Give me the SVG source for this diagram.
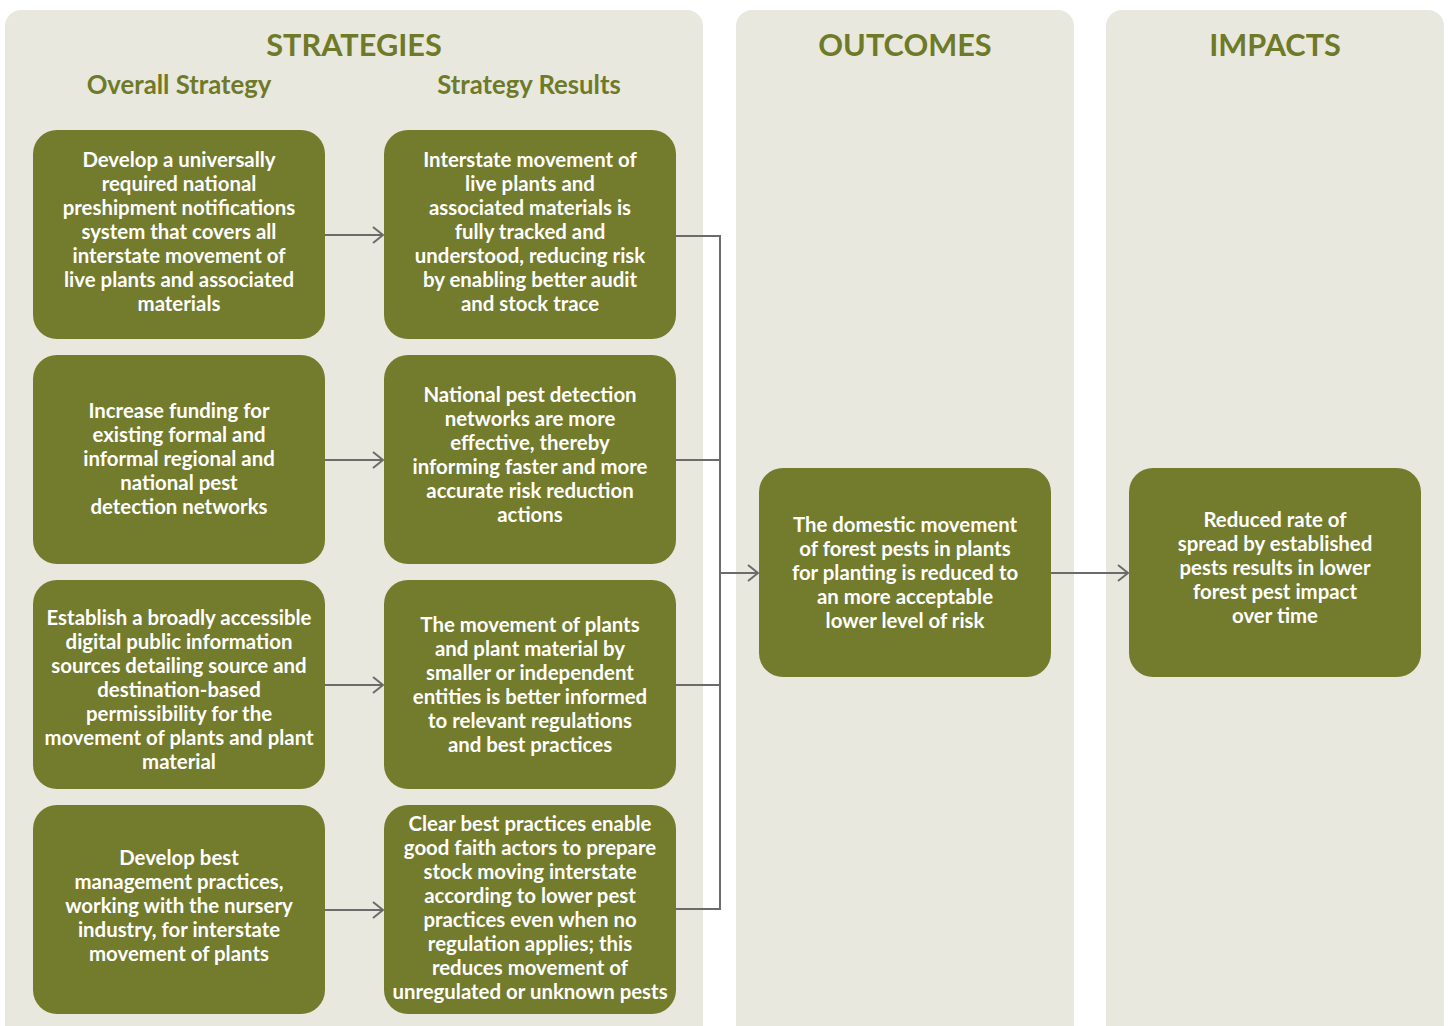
<svg xmlns="http://www.w3.org/2000/svg" width="1448" height="1026" viewBox="0 0 1448 1026">
<style>
.panel{fill:#e9e8de}
.box{fill:#737b2c}
.t{font-family:Lato,"Liberation Sans",sans-serif;font-weight:bold;font-size:20.4px;fill:#ffffff;text-anchor:middle;dominant-baseline:central}
.h{font-family:Lato,"Liberation Sans",sans-serif;font-weight:bold;font-size:30.7px;fill:#6f7a28;text-anchor:middle;dominant-baseline:central}
.s{font-family:Lato,"Liberation Sans",sans-serif;font-weight:bold;font-size:25.7px;fill:#6f7a28;text-anchor:middle;dominant-baseline:central}
.c{fill:none;stroke:#6b6b6b;stroke-width:2}
</style>
<defs>
<marker id="arr" markerWidth="14" markerHeight="20" refX="12" refY="10" orient="auto" markerUnits="userSpaceOnUse">
<path d="M2,2 L12,10 L2,18" fill="none" stroke="#6b6b6b" stroke-width="2"/>
</marker>
</defs>
<rect width="1448" height="1026" fill="#ffffff"/>
<g id="panels">
<rect class="panel" x="5" y="10" width="698" height="1040" rx="16"/>
<rect class="panel" x="736" y="10" width="338" height="1040" rx="16"/>
<rect class="panel" x="1106" y="10" width="338" height="1040" rx="16"/>
<text class="h" x="354" y="44">STRATEGIES</text>
<text class="s" x="179" y="84">Overall Strategy</text>
<text class="s" x="529" y="84">Strategy Results</text>
<text class="h" x="905" y="44">OUTCOMES</text>
<text class="h" x="1275" y="44">IMPACTS</text>
</g>
<g id="connectors">
<line class="c" x1="325" y1="235" x2="383" y2="235" marker-end="url(#arr)"/>
<line class="c" x1="325" y1="460" x2="383" y2="460" marker-end="url(#arr)"/>
<line class="c" x1="325" y1="685" x2="383" y2="685" marker-end="url(#arr)"/>
<line class="c" x1="325" y1="910" x2="383" y2="910" marker-end="url(#arr)"/>
<polyline class="c" points="676,236 720,236 720,909 676,909"/>
<line class="c" x1="676" y1="460" x2="720" y2="460"/>
<line class="c" x1="676" y1="685" x2="720" y2="685"/>
<line class="c" x1="720" y1="573" x2="758" y2="573" marker-end="url(#arr)"/>
<line class="c" x1="1051" y1="573" x2="1128" y2="573" marker-end="url(#arr)"/>
</g>
<g id="s1">
<rect class="box" x="33" y="130" width="292" height="209" rx="24"/>
<text class="t" x="179"><tspan x="179" y="159">Develop a universally</tspan><tspan x="179" y="183">required national</tspan><tspan x="179" y="207">preshipment notifications</tspan><tspan x="179" y="231">system that covers all</tspan><tspan x="179" y="255">interstate movement of</tspan><tspan x="179" y="279">live plants and associated</tspan><tspan x="179" y="303">materials</tspan></text>
</g>
<g id="s2">
<rect class="box" x="33" y="355" width="292" height="209" rx="24"/>
<text class="t" x="179"><tspan x="179" y="410">Increase funding for</tspan><tspan x="179" y="434">existing formal and</tspan><tspan x="179" y="458">informal regional and</tspan><tspan x="179" y="482">national pest</tspan><tspan x="179" y="506">detection networks</tspan></text>
</g>
<g id="s3">
<rect class="box" x="33" y="580" width="292" height="209" rx="24"/>
<text class="t" x="179"><tspan x="179" y="617">Establish a broadly accessible</tspan><tspan x="179" y="641">digital public information</tspan><tspan x="179" y="665">sources detailing source and</tspan><tspan x="179" y="689">destination-based</tspan><tspan x="179" y="713">permissibility for the</tspan><tspan x="179" y="737">movement of plants and plant</tspan><tspan x="179" y="761">material</tspan></text>
</g>
<g id="s4">
<rect class="box" x="33" y="805" width="292" height="209" rx="24"/>
<text class="t" x="179"><tspan x="179" y="857">Develop best</tspan><tspan x="179" y="881">management practices,</tspan><tspan x="179" y="905">working with the nursery</tspan><tspan x="179" y="929">industry, for interstate</tspan><tspan x="179" y="953">movement of plants</tspan></text>
</g>
<g id="r1">
<rect class="box" x="384" y="130" width="292" height="209" rx="24"/>
<text class="t" x="530"><tspan x="530" y="159">Interstate movement of</tspan><tspan x="530" y="183">live plants and</tspan><tspan x="530" y="207">associated materials is</tspan><tspan x="530" y="231">fully tracked and</tspan><tspan x="530" y="255">understood, reducing risk</tspan><tspan x="530" y="279">by enabling better audit</tspan><tspan x="530" y="303">and stock trace</tspan></text>
</g>
<g id="r2">
<rect class="box" x="384" y="355" width="292" height="209" rx="24"/>
<text class="t" x="530"><tspan x="530" y="394">National pest detection</tspan><tspan x="530" y="418">networks are more</tspan><tspan x="530" y="442">effective, thereby</tspan><tspan x="530" y="466">informing faster and more</tspan><tspan x="530" y="490">accurate risk reduction</tspan><tspan x="530" y="514">actions</tspan></text>
</g>
<g id="r3">
<rect class="box" x="384" y="580" width="292" height="209" rx="24"/>
<text class="t" x="530"><tspan x="530" y="624">The movement of plants</tspan><tspan x="530" y="648">and plant material by</tspan><tspan x="530" y="672">smaller or independent</tspan><tspan x="530" y="696">entities is better informed</tspan><tspan x="530" y="720">to relevant regulations</tspan><tspan x="530" y="744">and best practices</tspan></text>
</g>
<g id="r4">
<rect class="box" x="384" y="805" width="292" height="209" rx="24"/>
<text class="t" x="530"><tspan x="530" y="823">Clear best practices enable</tspan><tspan x="530" y="847">good faith actors to prepare</tspan><tspan x="530" y="871">stock moving interstate</tspan><tspan x="530" y="895">according to lower pest</tspan><tspan x="530" y="919">practices even when no</tspan><tspan x="530" y="943">regulation applies; this</tspan><tspan x="530" y="967">reduces movement of</tspan><tspan x="530" y="991">unregulated or unknown pests</tspan></text>
</g>
<g id="outcome">
<rect class="box" x="759" y="468" width="292" height="209" rx="24"/>
<text class="t" x="905"><tspan x="905" y="524">The domestic movement</tspan><tspan x="905" y="548">of forest pests in plants</tspan><tspan x="905" y="572">for planting is reduced to</tspan><tspan x="905" y="596">an more acceptable</tspan><tspan x="905" y="620">lower level of risk</tspan></text>
</g>
<g id="impact">
<rect class="box" x="1129" y="468" width="292" height="209" rx="24"/>
<text class="t" x="1275"><tspan x="1275" y="519">Reduced rate of</tspan><tspan x="1275" y="543">spread by established</tspan><tspan x="1275" y="567">pests results in lower</tspan><tspan x="1275" y="591">forest pest impact</tspan><tspan x="1275" y="615">over time</tspan></text>
</g>
</svg>
